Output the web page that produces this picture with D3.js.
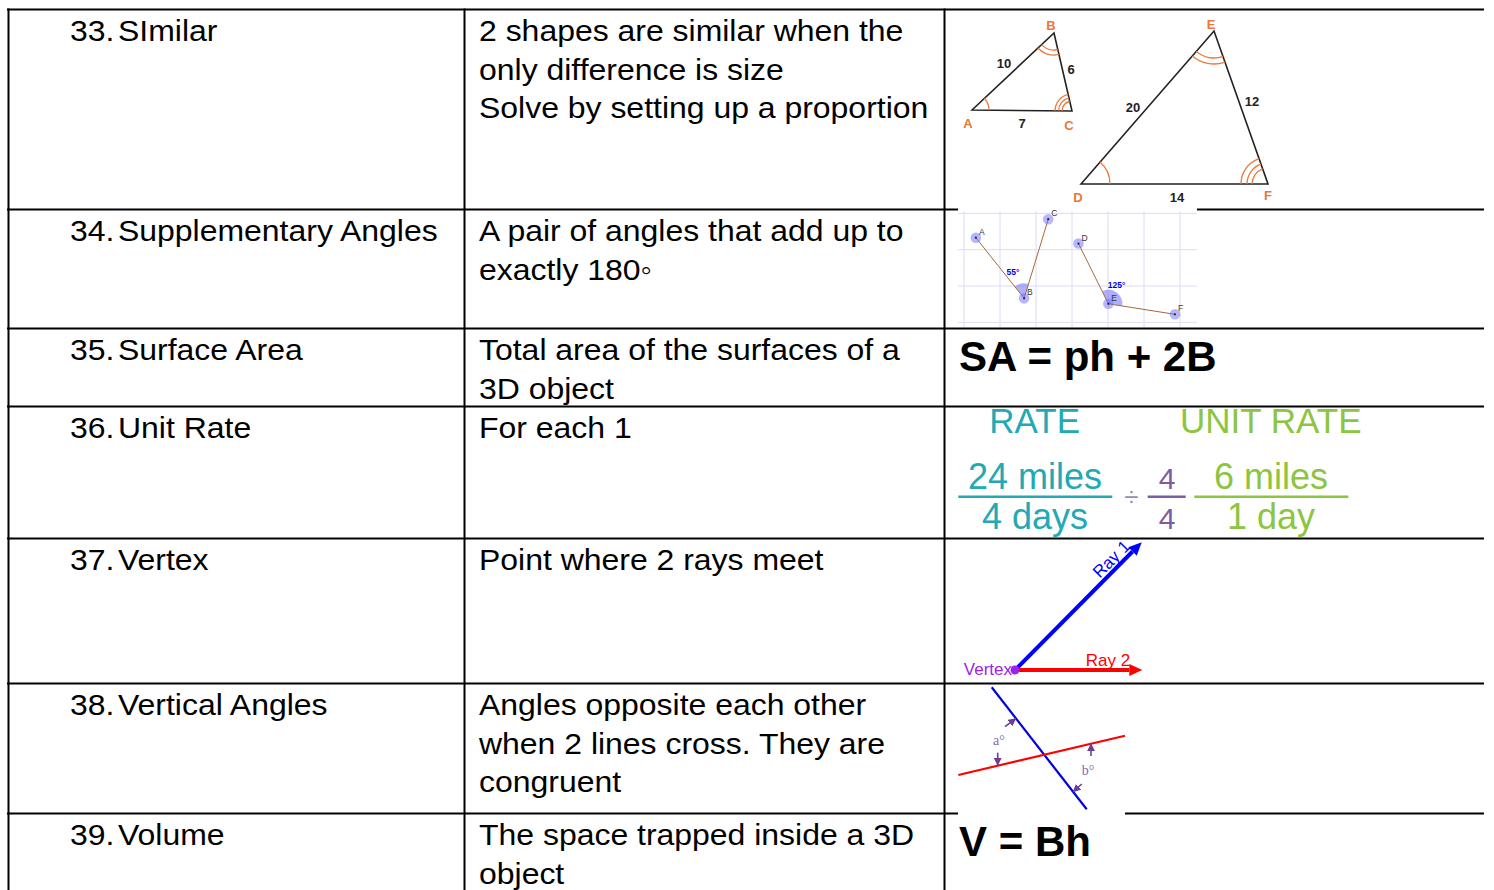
<!DOCTYPE html>
<html>
<head>
<meta charset="utf-8">
<script src="https://cdn.jsdelivr.net/npm/d3@7"></script>
<style>
  body { margin: 0; background: #fff; }
  svg { display: block; }
</style>
</head>
<body>
<script>
// table text
const numbers = ["33.", "34.", "35.", "36.", "37.", "38.", "39."]
const terms = ["SImilar", "Supplementary Angles", "Surface Area", "Unit Rate", "Vertex", "Vertical Angles", "Volume"]
const definitions = [
  ["2 shapes are similar when the", "only difference is size", "Solve by setting up a proportion"],
  ["A pair of angles that add up to", "exactly 180\u25E6"],
  ["Total area of the surfaces of a", "3D object"],
  ["For each 1"],
  ["Point where 2 rays meet"],
  ["Angles opposite each other", "when 2 lines cross. They are", "congruent"],
  ["The space trapped inside a 3D", "object"],
]
const formulas = [null, null, "SA = ph + 2B", null, null, null, "V = Bh"]

// similar triangles (picture units)
const triangles = [["A", "B", "C"], ["D", "E", "F"]]
const triPoints = { A: [14, 98], B: [96, 21], C: [114, 99], D: [123, 172], E: [256, 19], F: [310, 172] }
const triLabels = { A: [10, 111], B: [93, 13], C: [111, 113], D: [120, 185], E: [253, 12], F: [310, 183] }
const triSides = [["10", 46, 51], ["6", 113, 57], ["7", 64, 111], ["20", 175, 95], ["12", 294, 89], ["14", 219, 185]]
const triAngles = [
  ["A", "B", "C", [17]],
  ["B", "A", "C", [17, 22]],
  ["C", "A", "B", [10, 13.5, 17]],
  ["D", "E", "F", [29]],
  ["E", "D", "F", [27, 33]],
  ["F", "D", "E", [16, 21, 27]],
]

// supplementary angles (grid units)
const suppPoints = { A: [0.33, 2.33], B: [1.67, 0.66], C: [2.34, 2.84], D: [3.18, 2.17], E: [4.01, 0.51], F: [5.86, 0.22] }
const suppSegments = [["A", "B"], ["B", "C"], ["D", "E"], ["E", "F"]]
const suppAngles = [["B", "A", "C", "55°", 1.36, 1.39], ["E", "D", "F", "125°", 4.24, 1.03]]

// unit rate
const rateHeads = ["RATE", "UNIT RATE"]
const rateFractions = [["24 miles", "4 days"], ["4", "4"], ["6 miles", "1 day"]]

// vertex (picture units)
const rays = [["Ray 1", 126.7, 127.7], ["Ray 2", 127.3, 0]]

// vertical angles (picture units)
const crossLines = [[33.7, 2.3, 128.7, 124.3], [0.3, 90, 167, 50.7]]
const angleNames = [["a°", 35, 60], ["b°", 123.7, 90]]
const angleArrows = [[47, 41.7, 57.7, 33.7], [39.7, 67.7, 39.7, 80], [133, 71, 133, 59], [123.7, 99, 115.3, 106.7]]

let dimensions = {
  width: 1494,
  height: 890,
  left: 8,
  right: 1484,
  cols: [8, 464, 944],
  rows: [9, 209, 328, 406, 538, 683, 813, 890],
}

const svg = d3.select("body")
  .append("svg")
    .attr("width", dimensions.width)
    .attr("height", dimensions.height)

const font = "'Liberation Sans', Arial, Helvetica, sans-serif"

// table rules
const rules = svg.append("g").attr("stroke", "#000").attr("stroke-width", 2)
rules.selectAll(".hrule")
  .data(dimensions.rows.slice(0, 7))
  .join("line")
    .attr("x1", dimensions.left - 1).attr("x2", dimensions.right)
    .attr("y1", d => d + 0.5).attr("y2", d => d + 0.5)
rules.selectAll(".vrule")
  .data(dimensions.cols)
  .join("line")
    .attr("x1", d => d + 0.5).attr("x2", d => d + 0.5)
    .attr("y1", dimensions.rows[0] - 0.5).attr("y2", dimensions.height)

// pictures with white backgrounds hide parts of the rules
svg.append("rect").attr("x", 958).attr("y", 207.5).attr("width", 239).attr("height", 4).attr("fill", "#fff")
svg.append("rect").attr("x", 958).attr("y", 811.5).attr("width", 167).attr("height", 4).attr("fill", "#fff")

// table text
const rowTop = i => dimensions.rows[i]
const lineStep = 38.5
const bodyText = (g, x, y, s) => g.append("text")
  .attr("transform", `translate(${x},${y}) scale(1.065,1)`)
  .style("font-family", font)
  .style("font-size", "30px")
  .attr("fill", "#000")
  .text(s)

const textLayer = svg.append("g")
numbers.forEach((n, i) => {
  bodyText(textLayer, 70, rowTop(i) + 32, n)
  bodyText(textLayer, 118, rowTop(i) + 32, terms[i])
  definitions[i].forEach((line, j) => bodyText(textLayer, 479, rowTop(i) + 32 + j * lineStep, line))
  if (formulas[i]) {
    textLayer.append("text")
      .attr("x", 959)
      .attr("y", rowTop(i) + 43)
      .style("font-family", font)
      .style("font-size", "42px")
      .style("font-weight", "bold")
      .text(formulas[i])
  }
})

// angle arc helper: shorter arc around v between arms p and q
function armArc(cx, cy, px, py, qx, qy, r, closed) {
  const a1 = Math.atan2(py - cy, px - cx)
  let a2 = Math.atan2(qy - cy, qx - cx)
  let diff = a2 - a1
  while (diff > Math.PI) diff -= 2 * Math.PI
  while (diff < -Math.PI) diff += 2 * Math.PI
  const p = d3.path()
  if (closed) p.moveTo(cx, cy)
  p.arc(cx, cy, r, a1, a1 + diff, diff < 0)
  if (closed) p.closePath()
  return p.toString()
}

// 33: similar triangles
const tx = d3.scaleLinear().domain([0, 320]).range([958, 1278])
const ty = d3.scaleLinear().domain([0, 195]).range([12, 207])
const orange = "#e8793a"
const tri = svg.append("g")
tri.selectAll(".tri")
  .data(triangles)
  .join("path")
    .attr("d", d => d3.line()(d.map(k => [tx(triPoints[k][0]), ty(triPoints[k][1])])) + "Z")
    .attr("fill", "none")
    .attr("stroke", "#222")
    .attr("stroke-width", 1.6)
triAngles.forEach(([v, p, q, radii]) => {
  tri.selectAll(null)
    .data(radii)
    .join("path")
      .attr("d", r => armArc(
        tx(triPoints[v][0]), ty(triPoints[v][1]),
        tx(triPoints[p][0]), ty(triPoints[p][1]),
        tx(triPoints[q][0]), ty(triPoints[q][1]), r, false))
      .attr("fill", "none")
      .attr("stroke", orange)
      .attr("stroke-width", 1.3)
})
tri.selectAll(".vlabel")
  .data(Object.entries(triLabels))
  .join("text")
    .attr("x", d => tx(d[1][0]))
    .attr("y", d => ty(d[1][1]))
    .attr("text-anchor", "middle")
    .attr("dominant-baseline", "central")
    .style("font-family", font)
    .style("font-size", "13px")
    .style("font-weight", "bold")
    .attr("fill", orange)
    .text(d => d[0])
tri.selectAll(".slabel")
  .data(triSides)
  .join("text")
    .attr("x", d => tx(d[1]))
    .attr("y", d => ty(d[2]))
    .attr("text-anchor", "middle")
    .attr("dominant-baseline", "central")
    .style("font-family", font)
    .style("font-size", "13px")
    .style("font-weight", "bold")
    .attr("fill", "#222")
    .text(d => d[0])

// 34: supplementary angles on a grid
const gx = d3.scaleLinear().domain([0, 6]).range([964, 1180])
const gy = d3.scaleLinear().domain([0, 3]).range([322.3, 213.4])
const supp = svg.append("g")
supp.selectAll(".gv")
  .data(d3.range(0, 7))
  .join("line")
    .attr("x1", d => gx(d)).attr("x2", d => gx(d))
    .attr("y1", 211).attr("y2", 327)
    .attr("stroke", "#dcdcf6").attr("stroke-width", 1)
supp.selectAll(".gh")
  .data(d3.range(0, 4))
  .join("line")
    .attr("x1", 958).attr("x2", 1197)
    .attr("y1", d => gy(d)).attr("y2", d => gy(d))
    .attr("stroke", "#dcdcf6").attr("stroke-width", 1)
const sp = k => [gx(suppPoints[k][0]), gy(suppPoints[k][1])]
supp.selectAll(".sector")
  .data(suppAngles)
  .join("path")
    .attr("d", d => armArc(...sp(d[0]), ...sp(d[1]), ...sp(d[2]), d[0] === "B" ? 15 : 14, true))
    .attr("fill", "rgba(110,110,255,0.55)")
supp.selectAll(".seg")
  .data(suppSegments)
  .join("line")
    .attr("x1", d => sp(d[0])[0]).attr("y1", d => sp(d[0])[1])
    .attr("x2", d => sp(d[1])[0]).attr("y2", d => sp(d[1])[1])
    .attr("stroke", "#a8693a").attr("stroke-width", 1)
supp.selectAll(".halo")
  .data(Object.keys(suppPoints))
  .join("circle")
    .attr("cx", d => sp(d)[0]).attr("cy", d => sp(d)[1])
    .attr("r", 5.3)
    .attr("fill", "rgba(110,110,255,0.5)")
supp.selectAll(".dot")
  .data(Object.keys(suppPoints))
  .join("circle")
    .attr("cx", d => sp(d)[0]).attr("cy", d => sp(d)[1])
    .attr("r", 1.1)
    .attr("fill", "#222")
supp.selectAll(".plabel")
  .data(Object.keys(suppPoints))
  .join("text")
    .attr("x", d => sp(d)[0] + 3)
    .attr("y", d => sp(d)[1] - 3)
    .style("font-family", font)
    .style("font-size", "8.5px")
    .attr("fill", "#333")
    .text(d => d)
supp.selectAll(".alabel")
  .data(suppAngles)
  .join("text")
    .attr("x", d => gx(d[4]))
    .attr("y", d => gy(d[5]))
    .attr("text-anchor", "middle")
    .attr("dominant-baseline", "central")
    .style("font-family", font)
    .style("font-size", "8.5px")
    .style("font-weight", "bold")
    .attr("fill", "#0000ee")
    .text(d => d[3])

// 36: unit rate
const teal = "#23a9b3", green = "#8cc540", purple = "#7d5ca6"
const rate = svg.append("g").style("font-family", font).attr("text-anchor", "middle")
const headX = d3.scalePoint().domain(rateHeads).range([1034.7, 1270.8])
rate.selectAll(".head")
  .data(rateHeads)
  .join("text")
    .attr("x", d => headX(d))
    .attr("y", 433)
    .style("font-size", "35px")
    .attr("fill", (d, i) => i ? green : teal)
    .text(d => d)
const fracX = d3.scaleOrdinal().domain([0, 1, 2]).range([1035, 1167, 1271])
const fracBar = d3.scaleOrdinal().domain([0, 1, 2]).range([[958.3, 1112.3], [1147.7, 1185.7], [1194.3, 1348.3]])
const fracColor = d3.scaleOrdinal().domain([0, 1, 2]).range([teal, purple, green])
rateFractions.forEach((f, i) => {
  rate.append("line")
    .attr("x1", fracBar(i)[0]).attr("x2", fracBar(i)[1])
    .attr("y1", 496.7).attr("y2", 496.7)
    .attr("stroke", fracColor(i)).attr("stroke-width", 2.6)
  f.forEach((s, j) => rate.append("text")
    .attr("x", fracX(i))
    .attr("y", j ? 529 : 489)
    .style("font-size", i === 1 ? "30px" : "36px")
    .attr("fill", fracColor(i))
    .text(s))
})
rate.append("text")
  .attr("x", 1131.5).attr("y", 506)
  .style("font-size", "26px")
  .attr("fill", "#9a8cb8")
  .text("÷")

// 37: vertex and rays
const vx = d3.scaleLinear().domain([0, 130]).range([1015, 1145])
const vy = d3.scaleLinear().domain([0, 130]).range([670, 540])
const rayColor = d3.scaleOrdinal().domain(["Ray 1", "Ray 2"]).range(["#0000ff", "#ff0000"])
const vert = svg.append("g")
rays.forEach(([name, ex, ey]) => {
  const x0 = vx(0), y0 = vy(0), x1 = vx(ex), y1 = vy(ey)
  const len = Math.hypot(x1 - x0, y1 - y0)
  const ux = (x1 - x0) / len, uy = (y1 - y0) / len
  const head = 13, half = 6
  vert.append("line")
    .attr("x1", x0).attr("y1", y0)
    .attr("x2", x1 - ux * head).attr("y2", y1 - uy * head)
    .attr("stroke", rayColor(name)).attr("stroke-width", 4)
  vert.append("path")
    .attr("d", d3.line()([
      [x1, y1],
      [x1 - ux * head - uy * half, y1 - uy * head + ux * half],
      [x1 - ux * head + uy * half, y1 - uy * head - ux * half],
    ]) + "Z")
    .attr("fill", rayColor(name))
  const angle = Math.atan2(y1 - y0, x1 - x0) * 180 / Math.PI
  const t = name === "Ray 1" ? 0.815 : 0.73
  vert.append("text")
    .attr("transform", `translate(${x0 + (x1 - x0) * t},${y0 + (y1 - y0) * t}) rotate(${angle})`)
    .attr("y", -4)
    .attr("text-anchor", "middle")
    .style("font-family", font)
    .style("font-size", "17px")
    .attr("fill", rayColor(name))
    .text(name)
})
vert.append("circle")
  .attr("cx", vx(0)).attr("cy", vy(0))
  .attr("r", 4.5)
  .attr("fill", "#9b22e6")
vert.append("text")
  .attr("x", vx(0) - 3).attr("y", vy(0) + 5)
  .attr("text-anchor", "end")
  .style("font-family", font)
  .style("font-size", "17px")
  .attr("fill", "#9b22e6")
  .text("Vertex")

// 38: vertical angles
const ax = d3.scaleLinear().domain([0, 167]).range([958, 1125])
const ay = d3.scaleLinear().domain([0, 127]).range([685, 812])
const cross = svg.append("g")
cross.selectAll(".cl")
  .data(crossLines)
  .join("line")
    .attr("x1", d => ax(d[0])).attr("y1", d => ay(d[1]))
    .attr("x2", d => ax(d[2])).attr("y2", d => ay(d[3]))
    .attr("stroke", (d, i) => i ? "#ff0000" : "#0000e0")
    .attr("stroke-width", 2.2)
svg.append("defs").append("marker")
  .attr("id", "tip")
  .attr("viewBox", "0 0 10 10")
  .attr("refX", 9).attr("refY", 5)
  .attr("markerWidth", 8).attr("markerHeight", 8)
  .attr("markerUnits", "userSpaceOnUse")
  .attr("orient", "auto")
  .append("path")
    .attr("d", "M0,0L10,5L0,10Z")
    .attr("fill", "#6b3f98")
cross.selectAll(".arr")
  .data(angleArrows)
  .join("line")
    .attr("x1", d => ax(d[0])).attr("y1", d => ay(d[1]))
    .attr("x2", d => ax(d[2])).attr("y2", d => ay(d[3]))
    .attr("stroke", "#6b3f98").attr("stroke-width", 1.6)
    .attr("marker-end", "url(#tip)")
cross.selectAll(".an")
  .data(angleNames)
  .join("text")
    .attr("x", d => ax(d[1])).attr("y", d => ay(d[2]))
    .style("font-family", "'Liberation Serif', 'DejaVu Serif', serif")
    .style("font-size", "14px")
    .attr("fill", "#8a6aaa")
    .text(d => d[0])
</script>
</body>
</html>
